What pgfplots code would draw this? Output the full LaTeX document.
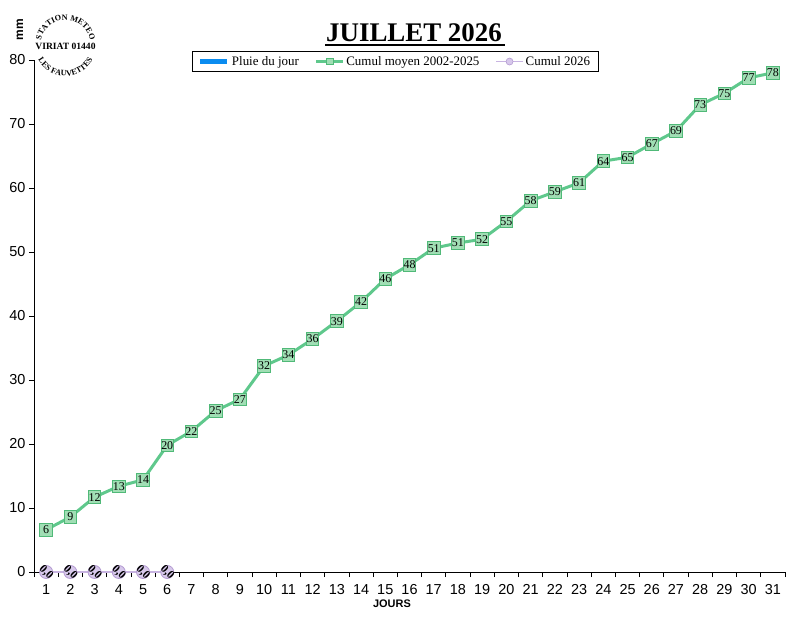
\documentclass[border=0pt]{standalone}
\usepackage{fontspec}
\setmainfont{Liberation Serif}
\newfontfamily\arial{Liberation Sans}
\usepackage{pgfplots}
\pgfplotsset{compat=1.18}
\usetikzlibrary{decorations.text}
\definecolor{gline}{RGB}{95,200,140}
\definecolor{gfill}{RGB}{160,222,180}
\definecolor{gedge}{RGB}{80,185,120}
\definecolor{pfill}{RGB}{215,200,235}
\definecolor{pedge}{RGB}{180,155,210}
\definecolor{pline}{RGB}{200,180,225}
\definecolor{rain}{RGB}{10,140,240}
\begin{document}
\begin{tikzpicture}
\useasboundingbox (-34bp,-54bp) rectangle (766bp,572bp);
\begin{axis}[
  at={(0,0)}, anchor=south west, scale only axis,
  width=751bp, height=512bp,
  xmin=0.5, xmax=31.5, ymin=0, ymax=80,
  axis lines*=left,
  axis line style={line width=0.8bp, black},
  xtick={0.5,1.5,...,31.5},
  x tick label as interval,
  xticklabels={1,2,3,4,5,6,7,8,9,10,11,12,13,14,15,16,17,18,19,20,21,22,23,24,25,26,27,28,29,30,31},
  xticklabel style={yshift=-4bp},
  ytick={0,10,...,80},
  tick align=outside, major tick length=5bp,
  tick style={black, line width=0.8bp},
  ticklabel style={font=\arial\fontsize{14.5}{14.5}\selectfont},
  /pgf/number format/assume math mode=true,
  clip=false,
  legend columns=3,
  legend style={at={(rel axis cs:0.4807,0.997)}, anchor=center, draw=black, line width=0.7bp,
    font=\fontsize{13}{13}\selectfont, inner xsep=6bp, inner ysep=3bp,
    /tikz/every even column/.append style={column sep=14bp}},
  legend image code/.code={\draw[mark repeat=2,mark phase=2] plot coordinates {(0bp,0bp) (13.5bp,0bp) (27bp,0bp)};},
]
\addlegendimage{rain, line width=5bp}
\addlegendentry{Pluie du jour}
\addlegendimage{gline, line width=2.5bp, mark=square*, mark size=3.2bp, mark options={fill=gfill, draw=gedge, line width=0.6bp}}
\addlegendentry{Cumul moyen 2002-2025}
\addlegendimage{pline, line width=1.2bp, mark=*, mark size=3.5bp, mark options={fill=pfill, draw=pedge, line width=0.6bp}}
\addlegendentry{Cumul 2026}

\addplot[forget plot, color=gline, line width=3bp, mark=square*, mark size=6.3bp,
  mark options={fill=gfill, draw=gedge, line width=0.8bp},
  point meta=explicit symbolic, nodes near coords,
  every node near coord/.append style={anchor=center, font=\fontsize{12}{12}\selectfont, inner sep=0pt, text=black}]
coordinates {
(1,6.6) [6] (2,8.6) [9] (3,11.7) [12] (4,13.4) [13] (5,14.4) [14]
(6,19.8) [20] (7,22.0) [22] (8,25.2) [25] (9,27.0) [27] (10,32.2) [32]
(11,33.9) [34] (12,36.4) [36] (13,39.2) [39] (14,42.2) [42] (15,45.8) [46]
(16,48.0) [48] (17,50.6) [51] (18,51.4) [51] (19,52.0) [52] (20,54.8) [55]
(21,58.0) [58] (22,59.4) [59] (23,60.8) [61] (24,64.2) [64] (25,64.8) [65]
(26,66.9) [67] (27,68.9) [69] (28,73.0) [73] (29,74.8) [75] (30,77.2) [77]
(31,78.0) [78]
};
\addplot[forget plot, color=pline, line width=1.2bp, mark=*, mark size=6.5bp,
  mark options={fill=pfill, draw=pedge, line width=0.8bp},
  point meta=explicit symbolic, nodes near coords,
  every node near coord/.append style={anchor=center, rotate=-45, font=\bfseries\fontsize{11.5}{11.5}\selectfont, inner sep=0pt, text=black}]
coordinates {
(1,0) [{0,0}] (2,0) [{0,0}] (3,0) [{0,0}] (4,0) [{0,0}] (5,0) [{0,0}] (6,0) [{0,0}]
};
\end{axis}
% title
\node[font=\bfseries\fontsize{27}{27}\selectfont, inner sep=0pt] at (380bp,539.5bp) {JUILLET 2026};
\draw[line width=2.2bp] (291bp,527bp) -- (471bp,527bp);
% axis labels
\node[font=\arial\bfseries\fontsize{12}{12}\selectfont, rotate=90] at (-14bp,542bp) {mm};
\node[font=\arial\bfseries\fontsize{11}{11}\selectfont] at (358bp,-32bp) {JOURS};
% logo
\begin{scope}[shift={(31.5bp,527bp)}]
\path[decorate, decoration={text along path, text align=center,
  text={|\bfseries\fontsize{8.2}{8.2}\selectfont|STATION METEO}}]
  (178:25bp) arc (178:2:25bp);
\path[decorate, decoration={text along path, text align=center,
  text={|\bfseries\fontsize{8.2}{8.2}\selectfont|LES FAUVETTES}}]
  (185:31bp) arc (185:355:31bp);
\node[font=\bfseries\fontsize{9.6}{9.6}\selectfont, inner sep=0pt] at (0,-1bp) {VIRIAT 01440};
\end{scope}
\end{tikzpicture}
\end{document}
